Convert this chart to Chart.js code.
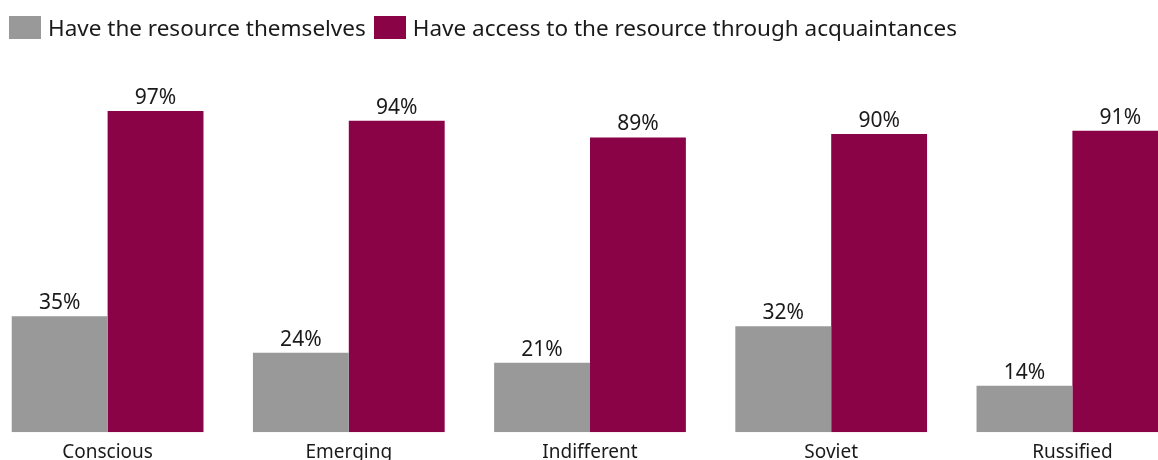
<!DOCTYPE html>
<html>
<head>
<meta charset="utf-8">
<script src="https://cdn.jsdelivr.net/npm/chart.js@4"></script>
<style>
  body { margin: 0; width: 1158px; height: 460px; overflow: hidden; position: relative; background: #fff; font-family: "Noto Sans", sans-serif; }
  .legend { position: absolute; left: 9px; top: 12px; display: flex; align-items: center; z-index: 2; }
  .legend-item { display: flex; align-items: center; margin-right: 8px; font-size: 22.5px; color: #1a1a1a; }
  .legend-box { width: 32px; height: 23px; margin-right: 7px; }
  .chart-wrap { position: absolute; left: -13px; top: 0; width: 1206px; height: 473px; }
</style>
</head>
<body>
<div class="legend" id="legend"></div>
<div class="chart-wrap"><canvas id="chart"></canvas></div>
<script>
document.addEventListener("DOMContentLoaded", () => {
  const categories = ["Conscious", "Emerging", "Indifferent", "Soviet", "Russified"];
  const ownValues = [35, 24, 21, 32, 14];
  const acquaintanceValues = [97, 94, 89, 90, 91];
  const seriesNames = ["Have the resource themselves", "Have access to the resource through acquaintances"];
  const seriesColors = ["#999999", "#8a0346"];

  const fontFamily = '"Noto Sans", sans-serif';

  // html legend on top
  const legendElement = document.getElementById('legend');
  seriesNames.forEach((name, i) => {
      const item = document.createElement('div');
      item.className = 'legend-item';
      item.innerHTML = `<span class="legend-box" style="background:${seriesColors[i]}"></span><span>${name}</span>`;
      legendElement.appendChild(item);
  });

  const valueLabels = {
      id: 'valueLabels',
      afterDatasetsDraw(chart) {
          const ctx = chart.ctx;
          ctx.save();
          ctx.font = `21px ${fontFamily}`;
          ctx.fillStyle = '#1a1a1a';
          ctx.textAlign = 'center';
          ctx.textBaseline = 'alphabetic';
          chart.data.datasets.forEach((ds, di) => {
              chart.getDatasetMeta(di).data.forEach((bar, i) => {
                  ctx.fillText(ds.data[i] + '%', bar.x, bar.y - 7);
              });
          });
          ctx.restore();
      }
  };

  new Chart(document.getElementById('chart').getContext('2d'), {
      type: 'bar',
      data: {
          labels: categories,
          datasets: [
              { label: seriesNames[0], data: ownValues, backgroundColor: seriesColors[0] },
              { label: seriesNames[1], data: acquaintanceValues, backgroundColor: seriesColors[1] }
          ]
      },
      options: {
          responsive: true,
          maintainAspectRatio: false,
          animation: false,
          categoryPercentage: 0.795,
          barPercentage: 1.0,
          layout: { padding: { top: 101, bottom: 0, left: 0, right: 0 } },
          plugins: {
              legend: { display: false },
              tooltip: { enabled: false }
          },
          scales: {
              x: {
                  grid: { display: false, drawTicks: false },
                  border: { display: false },
                  ticks: { font: { family: fontFamily, size: 19 }, color: '#1a1a1a', padding: 9, maxRotation: 0 }
              },
              y: {
                  display: false,
                  min: 0,
                  max: 100
              }
          }
      },
      plugins: [valueLabels]
  });
});
</script>
</body>
</html>
